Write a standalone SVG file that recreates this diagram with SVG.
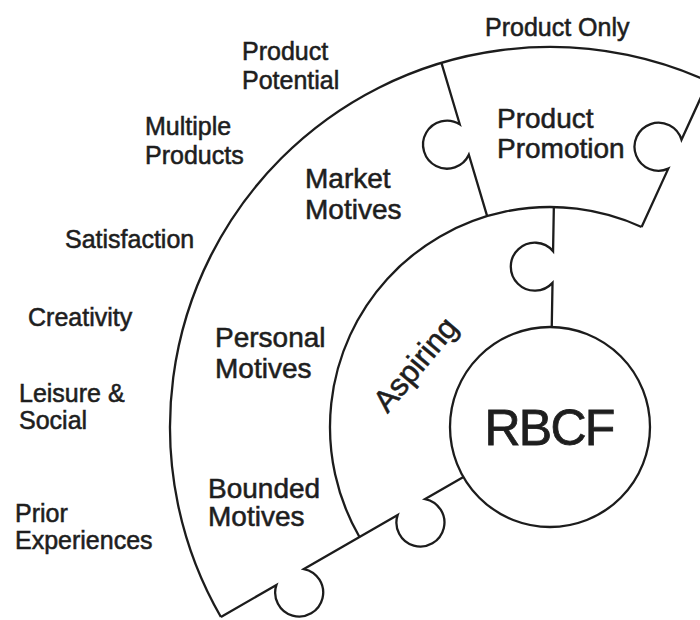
<svg xmlns="http://www.w3.org/2000/svg" width="700" height="620" viewBox="0 0 700 620">
  <style>
    .edge { fill: none; stroke: #1c1c1c; stroke-width: 2.3; stroke-linejoin: miter; }
    .lbl { font-family: "Liberation Sans", Arial, sans-serif; fill: #1e1e1e; stroke: #1e1e1e; stroke-width: 0.55; font-size: 25px; }
    .inner { font-size: 28px; }
    .big { font-size: 50px; letter-spacing: -1.8px; stroke-width: 0.8; }
    .tilt { font-size: 31px; }
  </style>
  <rect width="700" height="620" fill="#ffffff"/>

  <!-- Puzzle ring edges, all concentric about (550,427) -->
  <g id="edges">
    <!-- outer rim r=380 -->
    <path class="edge" d="M220.91,617 A380,380 0 0 1 740,97.91"/>
    <!-- inner rim r=220 -->
    <path class="edge" d="M359.47,537 A220,220 0 0 1 641.58,226.97"/>
    <!-- left side of Product Promotion, knob at r=300 -->
    <path class="edge" d="M487.15,216.17 L468.83,154.72 A24,24 0 1 1 459.76,124.29 L441.44,62.84"/>
    <!-- right side of Product Promotion, knob at r=300 -->
    <path class="edge" d="M641.58,226.97 L668.28,168.66 A24,24 0 1 1 681.49,139.79 L708.19,81.49"/>
    <!-- right side of Aspiring, knob at r=160 -->
    <path class="edge" d="M551.75,327.02 L552.52,282.90 A24,24 0 1 1 553.07,251.15 L553.84,207.03"/>
    <!-- lower edge, knobs at r=160 and r=300 -->
    <path class="edge" d="M463.40,477 L425.18,499.06 A24,24 0 1 1 397.69,514.94 L303.94,569.06 A24,24 0 1 1 276.44,584.94 L220.91,617"/>
  </g>

  <g id="rbcf">
    <circle class="edge" cx="550" cy="427" r="100"/>
    <text class="lbl big" x="549" y="445" text-anchor="middle">RBCF</text>
  </g>

  <g id="aspiring">
    <text class="lbl tilt" transform="translate(415,364) rotate(-50)" x="0" y="11" text-anchor="middle">Aspiring</text>
  </g>

  <g id="product-promotion">
    <text class="lbl inner" x="497" y="128">Product</text>
    <text class="lbl inner" x="497" y="158">Promotion</text>
  </g>

  <g id="market-motives">
    <text class="lbl inner" x="305" y="188">Market</text>
    <text class="lbl inner" x="305" y="219">Motives</text>
  </g>

  <g id="personal-motives">
    <text class="lbl inner" x="215" y="347">Personal</text>
    <text class="lbl inner" x="215" y="378">Motives</text>
  </g>

  <g id="bounded-motives">
    <text class="lbl inner" x="208" y="498">Bounded</text>
    <text class="lbl inner" x="208" y="526">Motives</text>
  </g>

  <g id="product-only">
    <text class="lbl" x="485" y="36">Product Only</text>
  </g>

  <g id="product-potential">
    <text class="lbl" x="242" y="60">Product</text>
    <text class="lbl" x="242" y="89">Potential</text>
  </g>

  <g id="multiple-products">
    <text class="lbl" x="145" y="135">Multiple</text>
    <text class="lbl" x="145" y="164">Products</text>
  </g>

  <g id="satisfaction">
    <text class="lbl" x="65" y="248">Satisfaction</text>
  </g>

  <g id="creativity">
    <text class="lbl" x="28" y="326">Creativity</text>
  </g>

  <g id="leisure-social">
    <text class="lbl" x="19" y="402">Leisure &amp;</text>
    <text class="lbl" x="19" y="429">Social</text>
  </g>

  <g id="prior-experiences">
    <text class="lbl" x="15" y="522">Prior</text>
    <text class="lbl" x="15" y="549">Experiences</text>
  </g>
</svg>
